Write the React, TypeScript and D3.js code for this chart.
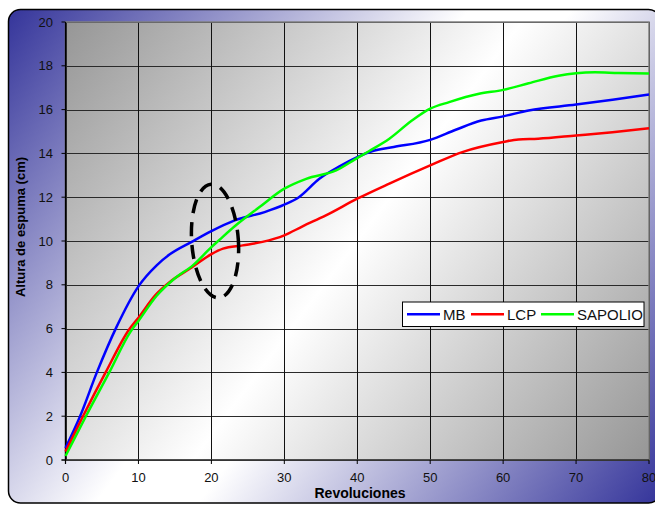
import React from "react";
import * as d3 from "d3";

const W = 655;
const H = 505;

const xTicks = [0, 10, 20, 30, 40, 50, 60, 70, 80];
const yTicks = [0, 2, 4, 6, 8, 10, 12, 14, 16, 18, 20];

const seriesNames = ["MB", "LCP", "SAPOLIO"];
const seriesColors = ["#0000ff", "#ff0000", "#00ff00"];

const mbData: [number, number][] = [
  [0, 0.55], [2, 2.0], [4.3, 4.0], [7, 6.08], [10, 7.93], [12.5, 8.89], [14.3, 9.39],
  [17.3, 9.96], [20, 10.45], [23.2, 10.94], [27.3, 11.32], [30, 11.66], [32, 12.0],
  [34.8, 12.84], [37.5, 13.4], [40, 13.83], [42, 14.1], [45, 14.29], [50, 14.62],
  [53.5, 15.08], [57, 15.5], [60, 15.69], [63.5, 15.96], [70, 16.23], [75, 16.45], [80, 16.69],
];
const lcpData: [number, number][] = [
  [0, 0.38], [2.4, 2.0], [5.5, 4.0], [8.7, 5.95], [10, 6.5], [12.3, 7.52], [14.3, 8.13],
  [17.3, 8.79], [20, 9.4], [21.6, 9.65], [24.3, 9.8], [27, 9.96], [30, 10.26], [32.5, 10.67],
  [35.7, 11.17], [40, 11.93], [44.4, 12.62], [50, 13.45], [54.4, 14.06], [60, 14.52],
  [62.1, 14.64], [64.8, 14.67], [70, 14.82], [75, 14.97], [80, 15.15],
];
const sapolioData: [number, number][] = [
  [0, 0.18], [2.8, 2.0], [6, 4.0], [8.9, 5.85], [10, 6.35], [12.5, 7.5], [15, 8.3],
  [17.5, 8.9], [20, 9.72], [21.1, 10.05], [23.2, 10.67], [26.6, 11.55], [30, 12.39],
  [33, 12.84], [37.1, 13.22], [39.8, 13.75], [41.6, 14.1], [44.4, 14.67], [47.5, 15.5],
  [50, 16.04], [52.6, 16.34], [56.7, 16.72], [60, 16.9], [63.5, 17.2], [67.6, 17.55],
  [70, 17.66], [72.6, 17.7], [75.8, 17.67], [80, 17.65],
];
const allSeries = [mbData, lcpData, sapolioData];

const xTitle = "Revoluciones";
const yTitle = "Altura de espuma (cm)";

export default function App() {
  const left = 65.5, right = 649, top = 22, bottom = 460;
  const x = d3.scaleLinear().domain([0, 80]).range([left, right]);
  const y = d3.scaleLinear().domain([0, 20]).range([bottom, top]);
  const line = d3
    .line<[number, number]>()
    .x((d) => x(d[0]))
    .y((d) => y(d[1]))
    .curve(d3.curveMonotoneX);

  const font = "Arial, 'Liberation Sans', sans-serif";
  const ellCx = x(20.5), ellCy = y(10.0);
  const ellRx = x(3.2) - x(0), ellRy = y(0) - y(2.6);

  const legendX = 402.5, legendY = 302, legendW = 241.5, legendH = 24.5;
  const legendItems = [
    { lx: 407, tx: 443 },
    { lx: 471, tx: 507 },
    { lx: 541, tx: 577 },
  ];

  return (
    <svg
      width={W}
      height={H}
      style={{ position: "fixed", left: 0, top: 0, display: "block" }}
      fontFamily={font}
    >
      <defs>
        <linearGradient id="bgGrad" gradientUnits="userSpaceOnUse" x1={8} y1={9} x2={660} y2={503}>
          <stop offset="0" stopColor="#34349a" />
          <stop offset="0.45" stopColor="#ffffff" />
          <stop offset="0.55" stopColor="#ffffff" />
          <stop offset="1" stopColor="#34349a" />
        </linearGradient>
        <linearGradient id="plotGrad" gradientUnits="userSpaceOnUse" x1={left} y1={top} x2={right} y2={bottom}>
          <stop offset="0" stopColor="#969696" />
          <stop offset="0.5" stopColor="#ffffff" />
          <stop offset="1" stopColor="#969696" />
        </linearGradient>
      </defs>
      <rect x={0} y={0} width={W} height={H} fill="#ffffff" />
      <rect x={8.5} y={9.5} width={652} height={493.5} rx={12} ry={12} fill="url(#bgGrad)" stroke="#000" strokeWidth={1.5} />
      <rect x={left} y={top} width={right - left} height={bottom - top} fill="url(#plotGrad)" />
      {yTicks.map((t) => (
        <line key={"gy" + t} x1={left} x2={right} y1={Math.round(y(t)) + 0.5} y2={Math.round(y(t)) + 0.5} stroke="#2a2a2a" strokeWidth={1} />
      ))}
      {xTicks.map((t) => (
        <line key={"gx" + t} x1={Math.round(x(t)) + 0.5} x2={Math.round(x(t)) + 0.5} y1={top} y2={bottom} stroke="#111" strokeWidth={1} />
      ))}
      <rect x={left} y={top} width={right - left} height={bottom - top} fill="none" stroke="#808080" strokeWidth={1.5} />
      <line x1={left} x2={left} y1={top} y2={bottom + 4} stroke="#000" strokeWidth={1.2} />
      <line x1={left - 4} x2={right} y1={bottom} y2={bottom} stroke="#000" strokeWidth={1.2} />
      {yTicks.map((t) => (
        <g key={"ty" + t}>
          <line x1={left - 4} x2={left} y1={y(t)} y2={y(t)} stroke="#000" />
          <text x={53} y={y(t)} dy="0.35em" textAnchor="end" fontSize={13} fill="#111">{t}</text>
        </g>
      ))}
      {xTicks.map((t) => (
        <g key={"tx" + t}>
          <line x1={x(t)} x2={x(t)} y1={bottom} y2={bottom + 4} stroke="#000" />
          <text x={x(t)} y={482} textAnchor="middle" fontSize={13} fill="#111">{t}</text>
        </g>
      ))}
      {allSeries.map((s, i) => (
        <path key={"s" + i} d={line(s) || ""} fill="none" stroke={seriesColors[i]} strokeWidth={2.5} strokeLinejoin="round" />
      ))}
      <ellipse
        cx={ellCx}
        cy={ellCy}
        rx={ellRx}
        ry={ellRy}
        fill="none"
        stroke="#000"
        strokeWidth={3.5}
        strokeDasharray="14 9"
        transform={`rotate(-4 ${ellCx} ${ellCy})`}
      />
      <rect x={legendX} y={legendY} width={legendW} height={legendH} fill="#fff" stroke="#000" strokeWidth={1} />
      {legendItems.map((it, i) => (
        <g key={"lg" + i}>
          <line x1={it.lx} x2={it.lx + 33} y1={legendY + legendH / 2} y2={legendY + legendH / 2} stroke={seriesColors[i]} strokeWidth={2.5} />
          <text x={it.tx} y={legendY + legendH / 2} dy="0.36em" fontSize={15} fill="#111">{seriesNames[i]}</text>
        </g>
      ))}
      <text x={360} y={498} textAnchor="middle" fontSize={14} fontWeight="bold" fill="#000">{xTitle}</text>
      <text transform={`translate(25 ${227}) rotate(-90)`} textAnchor="middle" fontSize={13} fontWeight="bold" fill="#000">{yTitle}</text>
    </svg>
  );
}
